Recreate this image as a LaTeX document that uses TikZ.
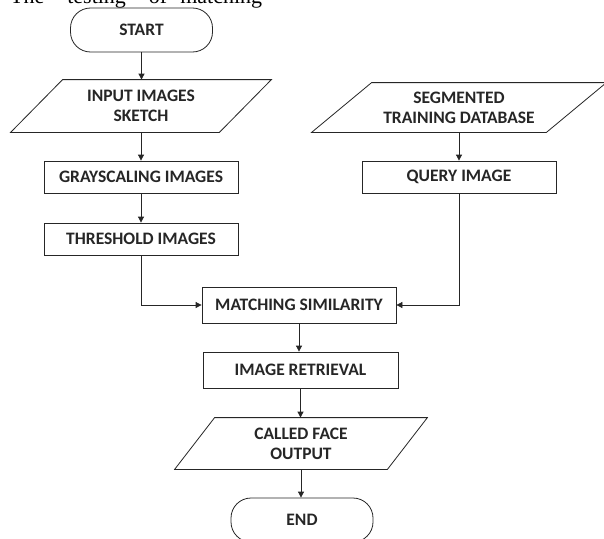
\documentclass[tikz,border=0pt]{standalone}
\usepackage{fontspec}
\setmainfont{Carlito}
\newfontfamily\serifbody{Liberation Serif}
\usetikzlibrary{arrows.meta,positioning}

\tikzset{
    box/.style={draw=black!85, line width=0.8pt, minimum width=194pt, minimum height=32pt,
        inner sep=0pt, font=\fontsize{17.5}{20}\selectfont\bfseries, text=black!85},
    term/.style={box, rounded corners=20pt, minimum width=142pt, minimum height=44pt},
    iobox/.style={box, draw=none, align=center},
    arr/.style={draw=black!85, line width=0.8pt, -{Triangle[length=6pt,width=6pt]}}
}
\newcommand{\slantbox}[2]{%
    \draw[black!85, line width=0.8pt] ([xshift=#2]#1.north west) -- ([xshift=#2]#1.north east)
        -- ([xshift=-#2]#1.south east) -- ([xshift=-#2]#1.south west) -- cycle;}

\begin{document}
\begin{tikzpicture}[x=1pt, y=-1pt]
    \useasboundingbox (0,0) rectangle (604,538);
    \clip (0,0) rectangle (604,538);
    \fill[white] (0,0) rectangle (604,538);

    \node[anchor=base west, inner sep=0pt, font=\serifbody\fontsize{22}{24}\selectfont] (caption) at (10,3)
        {\hbox to 252pt{The\hfill “testing”\hfill of\hfill matching}};

    \node[term] (start) at (141.5,30) {START};
    \node[iobox, minimum width=208pt, minimum height=52pt] (input) at (141,106) {INPUT IMAGES\\SKETCH};
    \node[box] (gray) at (141,177) {GRAYSCALING IMAGES};
    \node[box] (thresh) at (141,239) {THRESHOLD IMAGES};

    \node[iobox, minimum width=234pt, minimum height=49pt] (segdb) at (459,107.5) {SEGMENTED\\TRAINING DATABASE};
    \node[box] (query) at (459,177) {QUERY IMAGE};

    \node[box, minimum height=36pt] (match) at (299,305) {MATCHING SIMILARITY};
    \node[box, minimum height=36pt, minimum width=195pt] (retr) at (300.5,370) {IMAGE RETRIEVAL};
    \node[iobox, minimum width=212pt, minimum height=51pt] (face) at (301,443.5) {CALLED FACE\\OUTPUT};
    \node[term] (end) at (302,520) {END};

    \slantbox{input}{26pt}
    \slantbox{segdb}{30pt}
    \slantbox{face}{20pt}

    \draw[arr] (start) -- (start |- input.north);
    \draw[arr] (input) -- (input |- gray.north);
    \draw[arr] (gray) -- (thresh);
    \draw[arr] (segdb) -- (query);
    \draw[arr] (thresh.south) |- (match.west);
    \draw[arr] (query.south) |- (match.east);
    \draw[arr] (match) -- (match |- retr.north);
    \draw[arr] (retr) -- (retr |- face.north);
    \draw[arr] (face) -- (face |- end.north);
\end{tikzpicture}
\end{document}
